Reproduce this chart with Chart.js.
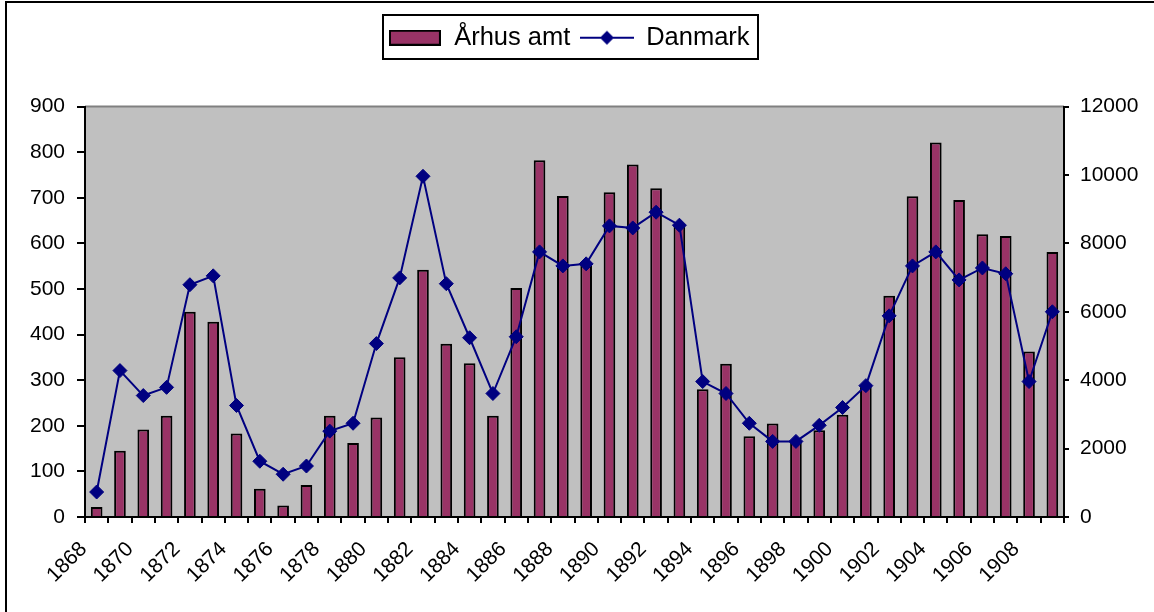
<!DOCTYPE html>
<html>
<head>
<meta charset="utf-8">
<script src="https://cdn.jsdelivr.net/npm/chart.js@4.4.1/dist/chart.umd.min.js"></script>
<style>
html,body{margin:0;padding:0;background:#fff;}
#wrap{position:relative;width:1154px;height:612px;}
</style>
</head>
<body>
<div id="wrap"><canvas id="c" width="1154" height="612"></canvas></div>
<script>
const years = ['1868','1869','1870','1871','1872','1873','1874','1875','1876','1877','1878','1879','1880','1881','1882','1883','1884','1885','1886','1887','1888','1889','1890','1891','1892','1893','1894','1895','1896','1897','1898','1899','1900','1901','1902','1903','1904','1905','1906','1907','1908','1909'];
const aarhusAmt = [22,145,192,222,450,428,183,62,25,70,222,162,218,350,542,380,337,222,502,782,704,555,712,773,721,638,280,336,177,205,165,190,224,290,485,703,821,695,620,616,363,581];
const danmark = [730,4280,3550,3790,6790,7050,3260,1630,1250,1490,2510,2740,5070,6990,9960,6820,5240,3610,5270,7750,7340,7400,8510,8450,8910,8530,3960,3610,2740,2210,2210,2680,3200,3840,5880,7340,7750,6930,7280,7110,3960,6000];
const leftTicks = [0,100,200,300,400,500,600,700,800,900];
const rightTicks = [0,2000,4000,6000,8000,10000,12000];
const seriesNames = ['Århus amt','Danmark'];

const FONT = "'Liberation Sans', Arial, sans-serif";

function barSwatch(){
  const c=document.createElement('canvas'); c.width=52; c.height=16;
  const x=c.getContext('2d');
  x.fillStyle='#993366'; x.fillRect(1,1,50,14);
  x.strokeStyle='#000'; x.lineWidth=2; x.strokeRect(1,1,50,14);
  return c;
}
function lineSwatch(){
  const c=document.createElement('canvas'); c.width=54; c.height=16;
  const x=c.getContext('2d');
  x.strokeStyle='#000080'; x.lineWidth=2;
  x.beginPath(); x.moveTo(0,8); x.lineTo(54,8); x.stroke();
  x.fillStyle='#000080';
  x.beginPath(); x.moveTo(27,1); x.lineTo(34,8); x.lineTo(27,15); x.lineTo(20,8); x.closePath(); x.fill();
  return c;
}
const swatches=[barSwatch(), lineSwatch()];

const decor = {
  id:'decor',
  beforeDraw(chart){
    const ctx=chart.ctx, a=chart.chartArea;
    ctx.save();
    ctx.fillStyle='#fff'; ctx.fillRect(0,0,chart.width,chart.height);
    ctx.fillStyle='#C0C0C0'; ctx.fillRect(a.left,a.top,a.right-a.left,a.bottom-a.top);
    ctx.strokeStyle='#808080'; ctx.lineWidth=2;
    ctx.beginPath(); ctx.moveTo(a.left,a.top); ctx.lineTo(a.right,a.top); ctx.stroke();
    ctx.restore();
  },
  afterDraw(chart){
    const ctx=chart.ctx;
    ctx.save();
    ctx.strokeStyle='#000'; ctx.lineWidth=2;
    ctx.beginPath(); ctx.moveTo(6,612); ctx.lineTo(6,2); ctx.lineTo(1154,2); ctx.stroke();
    ctx.strokeRect(383,15,375,44);
    ctx.restore();
  }
};

new Chart(document.getElementById('c'),{
  data:{
    labels:years,
    datasets:[
      {type:'line',label:seriesNames[1],data:danmark,xAxisID:'x',yAxisID:'y2',borderColor:'#000080',backgroundColor:'#000080',borderWidth:2,pointStyle:'rectRot',pointRadius:7,pointHoverRadius:7,pointBackgroundColor:'#000080',pointBorderColor:'#000080',pointBorderWidth:1,tension:0,order:0},
      {type:'bar',label:seriesNames[0],data:aarhusAmt,xAxisID:'x',yAxisID:'y',backgroundColor:'#993366',borderColor:'#000',borderWidth:2,barPercentage:0.5,categoryPercentage:1,order:1}
    ]
  },
  options:{
    responsive:false,
    animation:false,
    layout:{padding:{top:15,left:0,right:16,bottom:0}},
    plugins:{
      legend:{
        display:true,
        labels:{
          usePointStyle:true,
          pointStyleWidth:53,
          boxHeight:16,
          padding:10,
          color:'#000',
          font:{family:FONT,size:25.5},
          sort:(a,b)=>(a.datasetIndex===1?0:1)-(b.datasetIndex===1?0:1),
          generateLabels(chart){
            return chart.data.datasets.map((d,i)=>({text:d.label,datasetIndex:i,pointStyle:swatches[d.type==='bar'?0:1],fillStyle:d.backgroundColor,strokeStyle:d.borderColor,lineWidth:0,hidden:false,fontColor:'#000'}));
          }
        }
      },
      tooltip:{enabled:false}
    },
    scales:{
      x:{
        offset:true,
        grid:{display:true,drawOnChartArea:false,offset:true,color:'#000',lineWidth:2,tickLength:6},
        border:{display:true,color:'#000',width:2},
        ticks:{autoSkip:false,maxRotation:45,minRotation:45,color:'#000',font:{family:FONT,size:21},padding:14,labelOffset:-13,
          callback:function(v,i){return i%2===0?years[i]:'';}},
        afterFit(s){s.height=95;}
      },
      xTop:{
        type:'category',position:'top',display:true,offset:true,
        grid:{display:false},border:{display:false},ticks:{display:false},
        afterFit(s){s.height=46;}
      },
      y:{
        position:'left',min:0,max:900,
        afterBuildTicks(s){s.ticks=leftTicks.map(v=>({value:v}));},
        grid:{display:true,drawOnChartArea:false,color:'#000',lineWidth:2,tickLength:8},
        border:{display:true,color:'#000',width:2},
        ticks:{color:'#000',font:{family:FONT,size:21},padding:12,callback:v=>String(v)},
        afterFit(s){s.width=85;}
      },
      y2:{
        position:'right',min:0,max:12000,
        afterBuildTicks(s){s.ticks=rightTicks.map(v=>({value:v}));},
        grid:{display:true,drawOnChartArea:false,color:'#000',lineWidth:2,tickLength:5},
        border:{display:true,color:'#000',width:2},
        ticks:{color:'#000',font:{family:FONT,size:21},padding:11,callback:v=>String(v)},
        afterFit(s){s.width=74;}
      }
    }
  },
  plugins:[decor]
});
</script>
</body>
</html>
